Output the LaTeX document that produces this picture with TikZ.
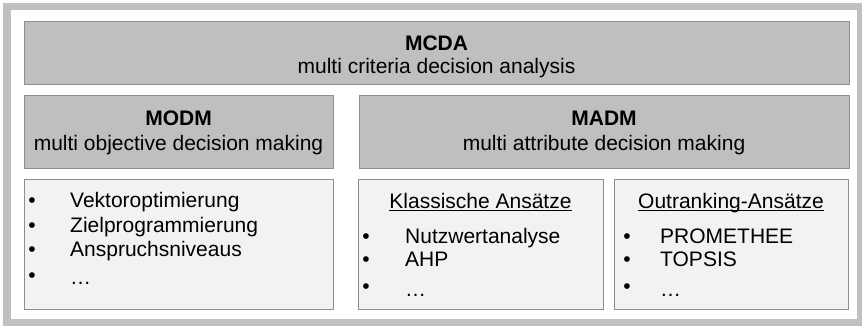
\documentclass[tikz,border=0pt]{standalone}
\usepackage{fontspec}
\setmainfont{Liberation Sans}
\definecolor{framegray}{HTML}{C0C0C0}
\definecolor{headgray}{HTML}{BFBFBF}
\definecolor{listgray}{HTML}{F2F2F2}
\definecolor{edgegray}{HTML}{8E8E8E}
\begin{document}
\begin{tikzpicture}[x=1pt,y=-1pt,
  frame/.style={draw=framegray, line width=7.5pt},
  headbox/.style={draw=edgegray, fill=headgray, line width=1.2pt, anchor=north west, inner sep=0pt},
  listbox/.style={draw=edgegray, fill=listgray, line width=1.2pt, anchor=north west, inner sep=0pt},
  txt/.style={anchor=base, inner sep=0pt, font=\fontsize{21}{25}\selectfont},
  boldtxt/.style={txt, font=\fontsize{21}{25}\selectfont\bfseries},
  dot/.style={anchor=base, inner sep=0pt, font=\fontsize{21}{25}\selectfont},
  entry/.style={anchor=base west, inner sep=0pt, font=\fontsize{21}{25}\selectfont},
  uline/.style={line width=1.4pt}
]
\useasboundingbox (0,0) rectangle (862,325);
% outer frame
\draw[frame] (7,6.5) rectangle (860.5,323);

% header boxes
\node[headbox, minimum width=825pt, minimum height=63pt] (mcda) at (24,21) {};
\node[headbox, minimum width=309pt, minimum height=73pt] (modm) at (24,95) {};
\node[headbox, minimum width=490pt, minimum height=73pt] (madm) at (359,95) {};

% list boxes
\node[listbox, minimum width=309pt, minimum height=130pt] (lbox) at (24,179) {};
\node[listbox, minimum width=245pt, minimum height=130pt] (kbox) at (358,179) {};
\node[listbox, minimum width=234pt, minimum height=130pt] (obox) at (614,179) {};

% header texts
\node[boldtxt] (mcdat) at (436.5,50) {MCDA};
\node[txt] (mcdas) at (436.5,73) {multi criteria decision analysis};
\node[boldtxt] (modmt) at (178.5,125) {MODM};
\node[txt] (modms) at (178.5,150) {multi objective decision making};
\node[boldtxt] (madmt) at (604,125) {MADM};
\node[txt] (madms) at (604,150) {multi attribute decision making};

% MODM methods
\node[dot] (lb1) at (32,207) {•};
\node[dot] (lb2) at (32,232) {•};
\node[dot] (lb3) at (32,256) {•};
\node[dot] (lb4) at (32,282) {•};
\node[entry] (l1) at (70,207) {Vektoroptimierung};
\node[entry] (l2) at (70,232) {Zielprogrammierung};
\node[entry] (l3) at (70,256) {Anspruchsniveaus};
\node[entry] (l4) at (70,284) {…};

% classic approaches
\node[txt] (kh) at (480.5,208) {Klassische Ansätze};
\draw[uline] ([yshift=-2.5pt]kh.base west) -- ([yshift=-2.5pt]kh.base east);
\node[dot] (kb1) at (366,243) {•};
\node[dot] (kb2) at (366,266) {•};
\node[dot] (kb3) at (366,293) {•};
\node[entry] (k1) at (405,243) {Nutzwertanalyse};
\node[entry] (k2) at (405,266) {AHP};
\node[entry] (k3) at (405,296) {…};

% outranking approaches
\node[txt] (oh) at (731,208) {Outranking-Ansätze};
\draw[uline] ([yshift=-2.5pt]oh.base west) -- ([yshift=-2.5pt]oh.base east);
\node[dot] (ob1) at (627,243) {•};
\node[dot] (ob2) at (627,266) {•};
\node[dot] (ob3) at (627,293) {•};
\node[entry] (o1) at (660,243) {PROMETHEE};
\node[entry] (o2) at (660,266) {TOPSIS};
\node[entry] (o3) at (660,296) {…};
\end{tikzpicture}
\end{document}
